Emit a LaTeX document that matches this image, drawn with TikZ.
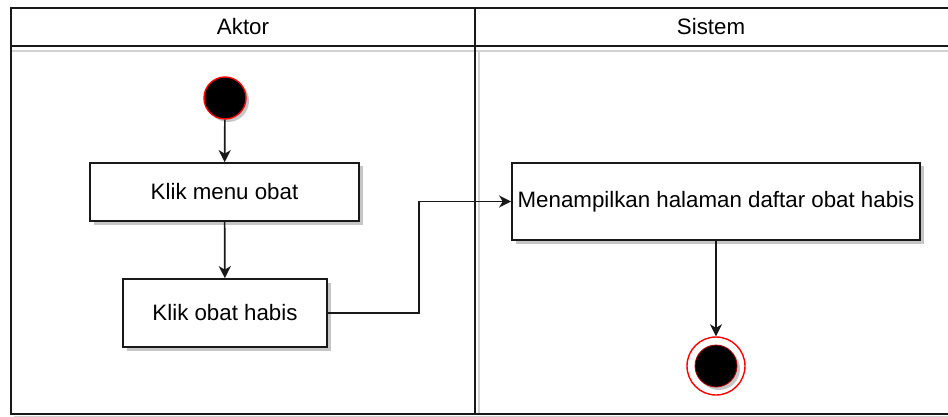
\documentclass[tikz,border=0pt]{standalone}
\usepackage{fontspec}
\setmainfont{Liberation Sans}
\usetikzlibrary{arrows.meta,shadows}
\begin{document}
\begin{tikzpicture}[x=1pt,y=-1pt,
  font=\fontsize{22.3}{25}\selectfont,
  lane/.style={line width=1.7pt, draw=black!90},
  laneshadow/.style={line width=2pt, draw=gray!35},
  action/.style={draw=black!90, line width=1.7pt, fill=white, inner sep=0pt,
    drop shadow={shadow xshift=3.5pt, shadow yshift=-3.5pt, fill=gray!45, opacity=1}},
  flow/.style={line width=1.7pt, draw=black!90,
    -{Stealth[length=12pt,width=12pt,inset=3.5pt]}},
  startnode/.style={circle, fill=black, draw=red, line width=1.4pt, minimum size=42pt, inner sep=0pt,
    drop shadow={shadow xshift=3pt, shadow yshift=-3pt, fill=gray!45, opacity=1}},
  endring/.style={circle, fill=white, draw=red, line width=1.4pt, minimum size=58pt, inner sep=0pt},
  enddot/.style={circle, fill=black, draw=red!70!black, line width=0.8pt, minimum size=42pt, inner sep=0pt,
    drop shadow={shadow xshift=3pt, shadow yshift=-3pt, fill=gray!45, opacity=1}}
]
\useasboundingbox (0,0) rectangle (948,417);

% swimlane shadows
\draw[laneshadow] (11,51) -- (948,51);
\draw[laneshadow] (479,50) -- (479,414);
\draw[laneshadow] (14,417) -- (948,417);

% swimlane frame
\draw[lane] (948,8) -- (11,8) -- (11,414) -- (948,414);
\draw[lane] (11,46) -- (948,46);
\draw[lane] (475,8) -- (475,414);

% lane titles
\node (aktor) at (243,27) {Aktor};
\node (sistem) at (711,27) {Sistem};

% actions
\node[startnode] (start) at (225,98) {};
\node[action, minimum width=269pt, minimum height=58pt] (menu) at (224.5,192) {Klik menu obat};
\node[action, minimum width=204pt, minimum height=68pt] (habis) at (225,313) {Klik obat habis};
\node[action, minimum width=408pt, minimum height=77pt] (tampil) at (716,201.5) {Menampilkan halaman daftar obat habis};
\node[endring] (endo) at (716,366) {};
\node[enddot] (endi) at (716,366) {};

% control flow
\coordinate (bend) at (419,313);
\draw[flow] (start) -- (menu);
\draw[flow] (menu) -- (habis);
\draw[flow] (habis.east) -- (bend) |- (tampil.west);
\draw[flow] (tampil) -- (endo);
\end{tikzpicture}
\end{document}
